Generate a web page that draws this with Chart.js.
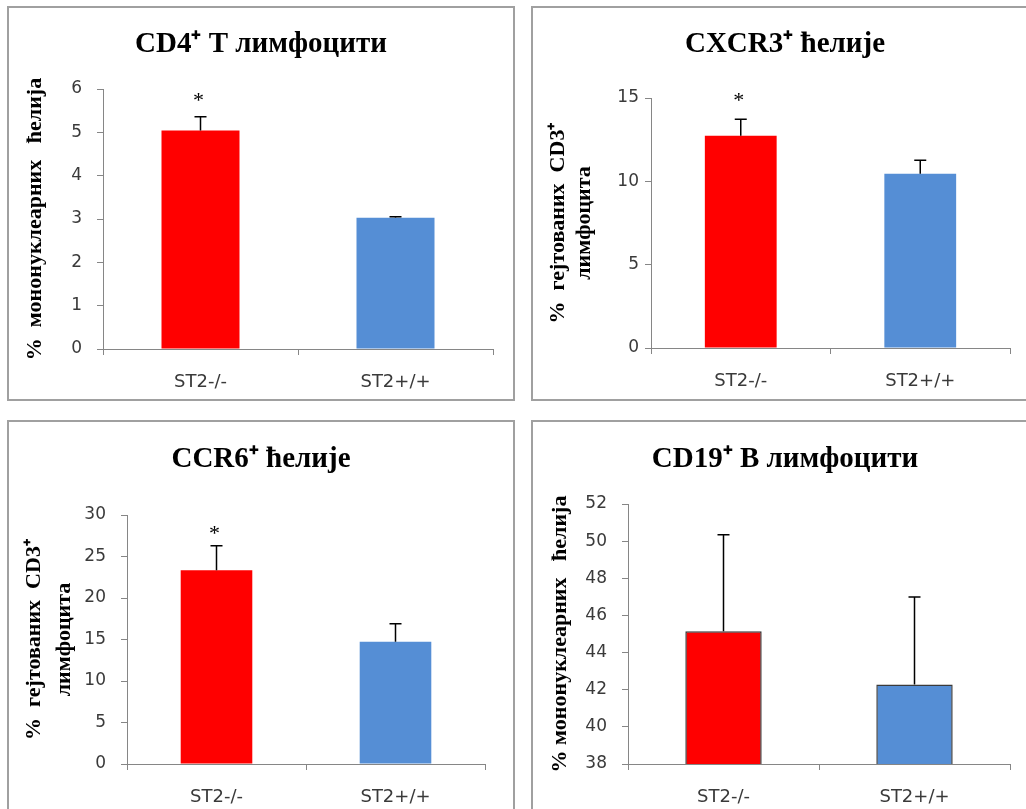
<!DOCTYPE html>
<html>
<head>
<meta charset="utf-8">
<script src="https://cdn.jsdelivr.net/npm/chart.js@4.4.1/dist/chart.umd.min.js"></script>
<style>
  html, body { margin: 0; padding: 0; background: #fff; width: 1026px; height: 809px; overflow: hidden; position: relative; }
  .panel { position: absolute; border: 2px solid #a0a0a0; width: 504px; height: 391px; background: #fff; }
  .panel canvas { display: block; }
</style>
</head>
<body>
<div class="panel" style="left:7px;top:6px"><canvas id="cd4Chart" width="504" height="391"></canvas></div>
<div class="panel" style="left:531px;top:6px"><canvas id="cxcr3Chart" width="504" height="391"></canvas></div>
<div class="panel" style="left:7px;top:420px"><canvas id="ccr6Chart" width="504" height="391"></canvas></div>
<div class="panel" style="left:531px;top:420px"><canvas id="cd19Chart" width="504" height="391"></canvas></div>
<script>
// shared categories
const categories = ["ST2-/-", "ST2+/+"];
const barColors = ["#ff0000", "#558ed5"];

// CD4+ T
const cd4Means = [5.04, 3.03];
const cd4Errors = [0.32, 0.02];
const cd4Marks = ["*", ""];
const cd4Ticks = [0, 6, 1];

// CXCR3+
const cxcr3Means = [12.74, 10.46];
const cxcr3Errors = [0.98, 0.8];
const cxcr3Marks = ["*", ""];
const cxcr3Ticks = [0, 15, 5];

// CCR6+
const ccr6Means = [23.35, 14.72];
const ccr6Errors = [2.95, 2.18];
const ccr6Marks = ["*", ""];
const ccr6Ticks = [0, 30, 5];

// CD19+ B
const cd19Means = [45.15, 42.28];
const cd19Errors = [5.2, 4.71];
const cd19Marks = ["", ""];
const cd19Ticks = [38, 52, 2];

const SERIF = "'Liberation Serif', 'Times New Roman', serif";
const SANS = "'DejaVu Sans', Verdana, sans-serif";
const AXIS = "#868686";
const TITLE_SIZE = 29;

const errorBars = {
  id: "errorBars",
  afterDatasetsDraw(chart, args, opts) {
    const { ctx } = chart;
    const y = chart.scales.y;
    const meta = chart.getDatasetMeta(0);
    const values = chart.data.datasets[0].data;
    ctx.save();
    ctx.strokeStyle = "#000";
    ctx.lineWidth = 1.5;
    ctx.fillStyle = "#000";
    ctx.font = "22px " + SERIF;
    ctx.textAlign = "center";
    ctx.textBaseline = "alphabetic";
    meta.data.forEach((bar, i) => {
      const base = y.getPixelForValue(values[i]);
      const top = y.getPixelForValue(values[i] + opts.errors[i]);
      ctx.beginPath();
      ctx.moveTo(bar.x, base);
      ctx.lineTo(bar.x, top);
      ctx.moveTo(bar.x - 6, top);
      ctx.lineTo(bar.x + 6, top);
      ctx.stroke();
      if (opts.marks[i]) ctx.fillText(opts.marks[i], bar.x - 2, top - opts.markGap);
    });
    ctx.restore();
  },
};

function makeChart(id, title, yTitle, means, errors, marks, ticks, area, look) {
  const canvas = document.getElementById(id);
  const W = canvas.width, H = canvas.height;
  const titleLine = TITLE_SIZE * 1.2;
  const titleTop = area.titleY - titleLine / 2;
  return new Chart(canvas, {
    type: "bar",
    data: {
      labels: categories,
      datasets: [
        {
          data: means,
          backgroundColor: barColors,
          borderColor: look.barBorder || "transparent",
          borderWidth: look.barBorder ? 1.5 : 0,
          categoryPercentage: 1,
          barPercentage: 0.4,
        },
      ],
    },
    options: {
      responsive: false,
      animation: false,
      layout: { padding: 0 },
      plugins: {
        legend: { display: false },
        tooltip: { enabled: false },
        title: {
          display: true,
          text: title,
          color: "#000",
          font: { family: SERIF, size: TITLE_SIZE, weight: "bold", lineHeight: 1.2 },
          padding: { top: titleTop, bottom: area.top - titleTop - titleLine },
        },
        errorBars: { errors: errors, marks: marks, markGap: look.markGap },
      },
      scales: {
        x: {
          grid: { display: true, drawOnChartArea: false, drawTicks: true, tickLength: 6, color: AXIS },
          border: { color: AXIS, width: 1 },
          ticks: { color: "#3a3a3a", font: { family: SANS, size: 18 }, padding: 17 },
          afterFit: (scale) => { scale.height = H - area.bottom; },
        },
        y: {
          min: ticks[0],
          max: ticks[1],
          grid: { display: true, drawOnChartArea: false, drawTicks: true, tickLength: 6, color: AXIS },
          border: { color: AXIS, width: 1 },
          ticks: { stepSize: ticks[2], color: "#3a3a3a", font: { family: SANS, size: 17 }, padding: look.tickGap },
          title: {
            display: true,
            text: yTitle,
            color: "#000",
            font: { family: SERIF, size: 22, weight: "bold", lineHeight: look.yLine },
            padding: { top: look.yPad, bottom: 0 },
          },
          afterFit: (scale) => { scale.width = area.left; },
        },
        // empty right-hand margin so the title stays centred on the panel
        gap: {
          position: "right",
          display: true,
          min: 0,
          max: 1,
          grid: { display: false },
          border: { display: false },
          ticks: { display: false },
          afterFit: (scale) => { scale.width = W - area.right; },
        },
      },
    },
    plugins: [errorBars],
  });
}

makeChart("cd4Chart", "CD4\u207A T лимфоцити", "%  мононуклеарних   ћелија",
  cd4Means, cd4Errors, cd4Marks, cd4Ticks,
  { left: 94, right: 484, top: 81, bottom: 341, titleY: 37 },
  { tickGap: 15, yLine: 1.2, yPad: 13, markGap: 10 });

makeChart("cxcr3Chart", "CXCR3\u207A ћелије", ["%  гејтованих  CD3\u207A", "лимфоцита"],
  cxcr3Means, cxcr3Errors, cxcr3Marks, cxcr3Ticks,
  { left: 118, right: 477, top: 90, bottom: 340, titleY: 37 },
  { tickGap: 6, yLine: 1.2, yPad: 12, markGap: 12 });

makeChart("ccr6Chart", "CCR6\u207A ћелије", ["%  гејтованих  CD3\u207A", "лимфоцита"],
  ccr6Means, ccr6Errors, ccr6Marks, ccr6Ticks,
  { left: 118, right: 476, top: 93, bottom: 342, titleY: 38 },
  { tickGap: 15, yLine: 1.36, yPad: 10, markGap: 6 });

makeChart("cd19Chart", "CD19\u207A B лимфоцити", "% мононуклеарних   ћелија",
  cd19Means, cd19Errors, cd19Marks, cd19Ticks,
  { left: 95, right: 477, top: 82, bottom: 342, titleY: 38 },
  { tickGap: 15, yLine: 1.2, yPad: 14, markGap: 10, barBorder: "#3a3a3a" });
</script>
</body>
</html>
